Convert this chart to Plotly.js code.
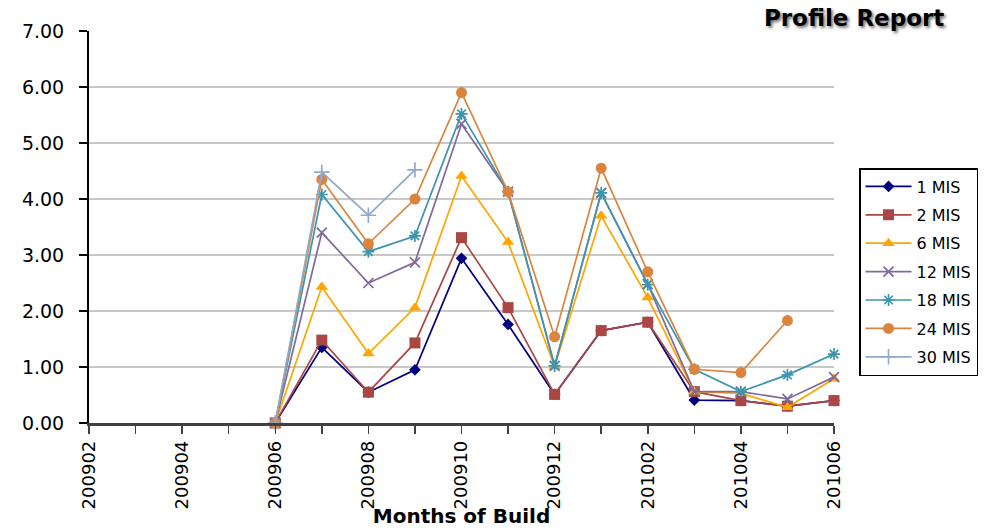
<!DOCTYPE html>
<html>
<head>
<meta charset="utf-8">
<script src="https://cdn.plot.ly/plotly-3.0.1.min.js"></script>
<style>html,body{margin:0;padding:0;background:#fff;}#chart{width:984px;height:528px;}</style>
</head>
<body>
<div id="chart"></div>
<script>
const months = ["200902","200903","200904","200905","200906","200907","200908","200909","200910","200911","200912","201001","201002","201003","201004","201005","201006"];
const mis1  = [null,null,null,null,0,1.35,0.55,0.95,2.94,1.76,0.51,1.65,1.80,0.41,0.40,0.30,0.40];
const mis2  = [null,null,null,null,0,1.48,0.55,1.43,3.31,2.06,0.51,1.65,1.80,0.56,0.40,0.30,0.40];
const mis6  = [null,null,null,null,0,2.43,1.24,2.06,4.41,3.23,1.01,3.70,2.24,0.56,0.53,0.28,0.79];
const mis12 = [null,null,null,null,0,3.40,2.50,2.87,5.34,4.13,1.02,4.11,2.48,0.56,0.56,0.43,0.82];
const mis18 = [null,null,null,null,0,4.08,3.06,3.34,5.52,4.13,1.02,4.11,2.47,0.96,0.56,0.86,1.23];
const mis24 = [null,null,null,null,0,4.35,3.20,4.00,5.90,4.13,1.54,4.55,2.70,0.96,0.90,1.83,null];
const mis30 = [null,null,null,null,0,4.48,3.71,4.52,null,null,null,null,null,null,null,null,null];
const seriesNames = ["1 MIS","2 MIS","6 MIS","12 MIS","18 MIS","24 MIS","30 MIS"];
const tickLabels = months.map((m,i)=> i%2===0 ? m : "");

const seriesData = [mis1,mis2,mis6,mis12,mis18,mis24,mis30];
const colors = ["#000080","#AA4643","#FFA500","#80699B","#3D96AE","#DB843D","#92A8CD"];
const symbols = ["diamond","square","triangle-up","x-thin-open","asterisk-open","circle","cross-thin-open"];
const sizes = [9,11,11,10,10,11,11];

const traces = seriesData.map((ys,i)=>{
  const open = symbols[i].indexOf("open")>=0;
  return {
    type:"scatter", mode:"lines+markers", name:seriesNames[i],
    x:months, y:ys, cliponaxis:false, legendgroup:"g"+i,
    line:{color:colors[i], width:1.7},
    marker:{symbol:symbols[i], size:sizes[i], color:colors[i],
      line:{color:colors[i], width: open?1.7:0}}
  };
});

const font = "DejaVu Sans, Liberation Sans, Arial, sans-serif";
const layout = {
  width:984, height:528,
  margin:{l:89, r:150, t:31, b:105, autoexpand:false},
  paper_bgcolor:"#fff", plot_bgcolor:"#fff",
  font:{family:font, color:"#000"},
  showlegend:true,
  title:{text:"Profile Report", x:0.868, xanchor:"center", y:0.966, yanchor:"middle",
    font:{family:font, size:23, weight:"bold", color:"#000", shadow:"2px 2px 3px #777"}},
  xaxis:{type:"category", range:[0,16], tickmode:"array", tickvals:months, ticktext:tickLabels,
    tickangle:-90, ticks:"outside", ticklen:8, tickwidth:1.5, tickcolor:"#404040",
    showline:true, linecolor:"#404040", linewidth:2.5, showgrid:false, zeroline:false,
    tickfont:{size:18, family:font, color:"#000"},
    title:{text:"Months of Build", standoff:0, font:{size:20, weight:"bold", family:font, color:"#000"}}},
  yaxis:{range:[0,7], dtick:1, tick0:0, tickformat:".2f", ticks:"outside", ticklen:8, tickwidth:1.5,
    tickcolor:"#000", showline:true, linecolor:"#000", linewidth:2, showgrid:true,
    gridcolor:"#c8c8c8", gridwidth:1.5, zeroline:false, ticklabelstandoff:11,
    tickfont:{size:19, family:font, color:"#000"}},
  legend:{x:1.0336, xanchor:"left", y:0.6505, yanchor:"top", bgcolor:"#fff",
    bordercolor:"#000", borderwidth:1.5, font:{size:16, family:font, color:"#000"},
    tracegroupgap:4.6, itemwidth:46}
};
Plotly.newPlot("chart", traces, layout, {displayModeBar:false, staticPlot:true});
</script>
</body>
</html>
